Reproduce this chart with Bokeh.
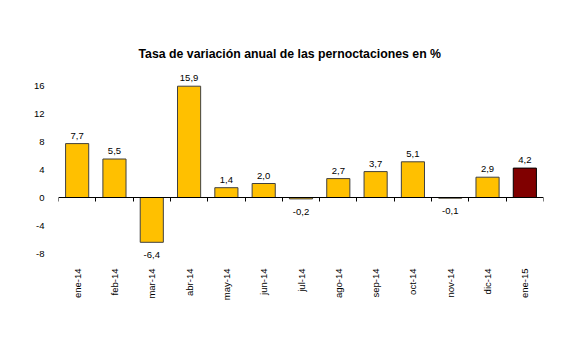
import math
from bokeh.plotting import figure
from bokeh.models import Range1d, FixedTicker, LinearAxis, ColumnDataSource
from bokeh.core.properties import value
from bokeh.embed import file_html
from bokeh.resources import INLINE

categories = ["ene-14", "feb-14", "mar-14", "abr-14", "may-14", "jun-14", "jul-14",
              "ago-14", "sep-14", "oct-14", "nov-14", "dic-14", "ene-15"]
values = [7.7, 5.5, -6.4, 15.9, 1.4, 2.0, -0.2, 2.7, 3.7, 5.1, -0.1, 2.9, 4.2]
y_ticks = [-8, -4, 0, 4, 8, 12, 16]
title_text = "Tasa de variación anual de las pernoctaciones en %"

FONT = "Liberation Sans"
n = len(categories)
idx = list(range(n))
fill = ["#FFC000"] * (n - 1) + ["#800000"]
outline = ["#404040"] * (n - 1) + ["#000000"]
labels = [f"{v:.1f}".replace(".", ",") for v in values]

p = figure(width=585, height=351, output_backend="svg", toolbar_location=None,
           x_range=Range1d(-0.5, n - 0.5), y_range=Range1d(-9.2857, 19),
           min_border_left=58, min_border_right=42, min_border_top=64, min_border_bottom=89,
           background_fill_color="white", border_fill_color="white", outline_line_color=None)
p.grid.visible = False

p.title.text = title_text
p.title.align = "left"
p.title.offset = 80
p.title.text_font = FONT
p.title.text_font_size = "12.3px"
p.title.text_font_style = "bold"
p.title.text_color = "#000000"
p.title.standoff = 7

src = ColumnDataSource(dict(x=idx, top=values, fill=fill, outline=outline, label=labels))
p.vbar(x="x", top="top", bottom=0, width=0.62, fill_color="fill", line_color="outline",
       line_width=1, source=src)

pos = ColumnDataSource(dict(x=[i for i in idx if values[i] >= 0],
                            y=[values[i] for i in idx if values[i] >= 0],
                            t=[labels[i] for i in idx if values[i] >= 0]))
neg = ColumnDataSource(dict(x=[i for i in idx if values[i] < 0],
                            y=[values[i] for i in idx if values[i] < 0],
                            t=[labels[i] for i in idx if values[i] < 0]))
common = dict(text="t", text_align="center", text_font_size="9.5px", text_color="#000000")
p.text(x="x", y="y", source=pos, text_baseline="bottom", y_offset=-5,
       text_font=value(FONT), **common)
p.text(x="x", y="y", source=neg, text_baseline="top", y_offset=10,
       text_font=value(FONT), **common)

# y axis: labels only
p.yaxis.ticker = FixedTicker(ticks=y_ticks)
p.yaxis.major_label_overrides = {t: str(t) for t in y_ticks}
p.yaxis.axis_line_color = None
p.yaxis.major_tick_line_color = None
p.yaxis.minor_tick_line_color = None
p.yaxis.major_label_text_font = FONT
p.yaxis.major_label_text_font_size = "9.5px"
p.yaxis.major_label_text_color = "#000000"
p.yaxis.major_label_standoff = 8

# bottom axis: category labels only
p.xaxis.ticker = FixedTicker(ticks=idx)
p.xaxis.major_label_overrides = {i: c for i, c in zip(idx, categories)}
p.xaxis.major_label_orientation = math.pi / 2
p.xaxis.axis_line_color = None
p.xaxis.major_tick_line_color = None
p.xaxis.minor_tick_line_color = None
p.xaxis.major_label_text_font = FONT
p.xaxis.major_label_text_font_size = "9.5px"
p.xaxis.major_label_text_color = "#000000"
p.xaxis.major_label_standoff = 0

# zero axis with ticks at category boundaries
zero_axis = LinearAxis(fixed_location=0, ticker=FixedTicker(ticks=[i - 0.5 for i in range(n + 1)]),
                       axis_line_color="#000000", major_tick_line_color="#000000",
                       major_tick_in=0, major_tick_out=4, minor_tick_line_color=None,
                       major_label_text_font_size="0px", major_label_text_alpha=0)
p.add_layout(zero_axis, "below")

open("out.html", "w").write(file_html(p, INLINE))
